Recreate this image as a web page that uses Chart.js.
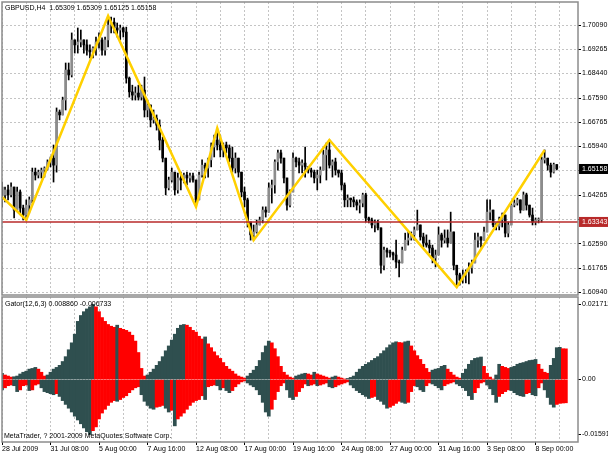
<!DOCTYPE html>
<html>
<head>
<meta charset="utf-8">
<script src="https://cdn.jsdelivr.net/npm/chart.js@4/dist/chart.umd.min.js"></script>
<style>
html, body { margin: 0; padding: 0; background: #fff; }
#wrap { position: relative; width: 608px; height: 456px; overflow: hidden; }
canvas { position: absolute; left: 0; }
</style>
</head>
<body>
<div id="wrap">
<canvas id="price" width="608" height="297" style="top:0"></canvas>
<canvas id="gator" width="608" height="160" style="top:296px"></canvas>
</div>
<script>
// ---- texts
const symbolTitle = 'GBPUSD,H4  1.65309 1.65309 1.65125 1.65158';
const gatorTitle = 'Gator(12,6,3) 0.008860 -0.006733';
const copyright = 'MetaTrader, ? 2001-2009 MetaQuotes Software Corp.';

// ---- time axis (one label every 16 H4 bars, grid every 8)
const axisDates = ['28 Jul 2009', '31 Jul 08:00', '5 Aug 00:00', '7 Aug 16:00', '12 Aug 08:00', '17 Aug 00:00',
    '19 Aug 16:00', '24 Aug 08:00', '27 Aug 00:00', '31 Aug 16:00', '3 Sep 08:00', '8 Sep 00:00'];
const dateStep = 16;
const gridStep = 8;
const slotCount = 191;

// ---- candles (open of a bar = close of the one before)
const firstOpen = 1.6454;
const barHigh = [
    1.6471, 1.6454, 1.6461, 1.6468, 1.6416, 1.6454, 1.6444, 1.6392, 1.6410, 1.6420,
    1.6519, 1.6519, 1.6512, 1.6519, 1.6523, 1.6547, 1.6557, 1.6598, 1.6725, 1.6718,
    1.6762, 1.6879, 1.6879, 1.6982, 1.6958, 1.6999, 1.6992, 1.6958, 1.6958, 1.6941,
    1.6934, 1.6968, 1.6982, 1.6965, 1.6968, 1.7040, 1.7036, 1.7033, 1.7016, 1.7009,
    1.7002, 1.7002, 1.6831, 1.6803, 1.6797, 1.6803, 1.6803, 1.6831, 1.6752, 1.6725,
    1.6718, 1.6701, 1.6684, 1.6625, 1.6547, 1.6488, 1.6519, 1.6495, 1.6502, 1.6505,
    1.6502, 1.6505, 1.6502, 1.6502, 1.6471, 1.6505, 1.6547, 1.6536, 1.6553, 1.6605,
    1.6632, 1.6656, 1.6632, 1.6605, 1.6608, 1.6598, 1.6591, 1.6571, 1.6547, 1.6502,
    1.6454, 1.6416, 1.6331, 1.6324, 1.6341, 1.6351, 1.6386, 1.6386, 1.6468, 1.6478,
    1.6547, 1.6581, 1.6581, 1.6523, 1.6478, 1.6444, 1.6571, 1.6557, 1.6553, 1.6547,
    1.6591, 1.6519, 1.6519, 1.6512, 1.6512, 1.6523, 1.6581, 1.6605, 1.6615, 1.6547,
    1.6553, 1.6512, 1.6512, 1.6468, 1.6427, 1.6416, 1.6420, 1.6410, 1.6410, 1.6433,
    1.6433, 1.6351, 1.6348, 1.6341, 1.6341, 1.6307, 1.6248, 1.6245, 1.6238, 1.6231,
    1.6272, 1.6204, 1.6248, 1.6296, 1.6300, 1.6300, 1.6317, 1.6375, 1.6324, 1.6296,
    1.6290, 1.6272, 1.6255, 1.6238, 1.6317, 1.6296, 1.6307, 1.6307, 1.6368, 1.6238,
    1.6186, 1.6159, 1.6170, 1.6170, 1.6194, 1.6204, 1.6296, 1.6296, 1.6283, 1.6317,
    1.6410, 1.6410, 1.6341, 1.6331, 1.6351, 1.6365, 1.6341, 1.6334, 1.6399, 1.6410,
    1.6416, 1.6399, 1.6437, 1.6433, 1.6386, 1.6382, 1.6348, 1.6348, 1.6557, 1.6581,
    1.6547, 1.6536, 1.6536, 1.65309
];
const barLow = [
    1.6386, 1.6403, 1.6410, 1.6420, 1.6348, 1.6375, 1.6365, 1.6341, 1.6341, 1.6365,
    1.6399, 1.6478, 1.6485, 1.6485, 1.6488, 1.6512, 1.6523, 1.6471, 1.6505, 1.6684,
    1.6711, 1.6718, 1.6821, 1.6831, 1.6913, 1.6913, 1.6934, 1.6913, 1.6906, 1.6896,
    1.6896, 1.6906, 1.6930, 1.6906, 1.6906, 1.6934, 1.6982, 1.6982, 1.6968, 1.6958,
    1.6968, 1.6810, 1.6762, 1.6752, 1.6752, 1.6752, 1.6752, 1.6694, 1.6694, 1.6660,
    1.6673, 1.6649, 1.6581, 1.6540, 1.6427, 1.6444, 1.6471, 1.6427, 1.6433, 1.6444,
    1.6468, 1.6461, 1.6471, 1.6471, 1.6386, 1.6420, 1.6488, 1.6485, 1.6488, 1.6523,
    1.6557, 1.6581, 1.6557, 1.6557, 1.6571, 1.6540, 1.6505, 1.6502, 1.6488, 1.6420,
    1.6386, 1.6317, 1.6272, 1.6272, 1.6296, 1.6331, 1.6331, 1.6351, 1.6386, 1.6399,
    1.6433, 1.6512, 1.6536, 1.6468, 1.6375, 1.6386, 1.6488, 1.6523, 1.6502, 1.6502,
    1.6488, 1.6502, 1.6488, 1.6468, 1.6444, 1.6468, 1.6512, 1.6478, 1.6519, 1.6488,
    1.6495, 1.6488, 1.6444, 1.6386, 1.6386, 1.6386, 1.6386, 1.6375, 1.6365, 1.6386,
    1.6334, 1.6331, 1.6314, 1.6300, 1.6307, 1.6159, 1.6170, 1.6214, 1.6214, 1.6204,
    1.6177, 1.6146, 1.6194, 1.6248, 1.6255, 1.6272, 1.6272, 1.6317, 1.6272, 1.6248,
    1.6248, 1.6228, 1.6194, 1.6180, 1.6228, 1.6248, 1.6262, 1.6248, 1.6272, 1.6170,
    1.6111, 1.6118, 1.6125, 1.6125, 1.6122, 1.6159, 1.6204, 1.6248, 1.6248, 1.6272,
    1.6307, 1.6341, 1.6317, 1.6307, 1.6307, 1.6317, 1.6283, 1.6283, 1.6368, 1.6386,
    1.6392, 1.6365, 1.6382, 1.6375, 1.6351, 1.6324, 1.6324, 1.6331, 1.6334, 1.6536,
    1.6512, 1.6488, 1.6502, 1.65125
];
const barClose = [
    1.6427, 1.6444, 1.6427, 1.6454, 1.6375, 1.6437, 1.6382, 1.6358, 1.6392, 1.6410,
    1.6505, 1.6495, 1.6505, 1.6512, 1.6519, 1.6540, 1.6553, 1.6529, 1.6711, 1.6701,
    1.6752, 1.6855, 1.6838, 1.6958, 1.6941, 1.6951, 1.6958, 1.6941, 1.6923, 1.6917,
    1.6930, 1.6951, 1.6958, 1.6923, 1.6958, 1.7009, 1.7019, 1.6999, 1.6992, 1.6999,
    1.6985, 1.6827, 1.6780, 1.6769, 1.6776, 1.6762, 1.6786, 1.6718, 1.6735, 1.6684,
    1.6690, 1.6666, 1.6615, 1.6553, 1.6451, 1.6478, 1.6505, 1.6444, 1.6485, 1.6478,
    1.6495, 1.6485, 1.6492, 1.6478, 1.6410, 1.6495, 1.6529, 1.6519, 1.6547, 1.6591,
    1.6615, 1.6598, 1.6581, 1.6598, 1.6588, 1.6553, 1.6519, 1.6553, 1.6505, 1.6437,
    1.6410, 1.6334, 1.6290, 1.6300, 1.6324, 1.6341, 1.6375, 1.6368, 1.6451, 1.6461,
    1.6540, 1.6571, 1.6553, 1.6485, 1.6392, 1.6437, 1.6553, 1.6540, 1.6529, 1.6536,
    1.6523, 1.6512, 1.6505, 1.6485, 1.6495, 1.6512, 1.6564, 1.6581, 1.6529, 1.6540,
    1.6512, 1.6502, 1.6461, 1.6410, 1.6416, 1.6410, 1.6403, 1.6392, 1.6399, 1.6427,
    1.6348, 1.6341, 1.6324, 1.6331, 1.6314, 1.6186, 1.6238, 1.6231, 1.6228, 1.6221,
    1.6197, 1.6194, 1.6238, 1.6272, 1.6279, 1.6290, 1.6307, 1.6324, 1.6283, 1.6262,
    1.6255, 1.6245, 1.6211, 1.6221, 1.6290, 1.6272, 1.6279, 1.6262, 1.6300, 1.6186,
    1.6153, 1.6135, 1.6153, 1.6163, 1.6177, 1.6194, 1.6272, 1.6283, 1.6272, 1.6300,
    1.6368, 1.6375, 1.6324, 1.6320, 1.6341, 1.6358, 1.6296, 1.6324, 1.6392, 1.6399,
    1.6410, 1.6375, 1.6427, 1.6392, 1.6358, 1.6334, 1.6341, 1.6341, 1.6547, 1.6553,
    1.6529, 1.6505, 1.6531, 1.65158
];

// ---- zigzag pivots
const zigzagBars = [0, 8, 35, 64, 71, 83, 108, 150, 179];
const zigzagPrices = [1.6420, 1.6341, 1.7040, 1.6386, 1.6656, 1.6272, 1.6615, 1.6111, 1.6581];

// ---- price axis
const priceMin = 1.6084;
const priceMax = 1.7088;
const priceTicks = [1.60940, 1.61765, 1.62590, 1.63440, 1.64265, 1.65115, 1.65940, 1.66765, 1.67590, 1.68440, 1.69265, 1.70090];
const priceTickLabels = ['1.60940', '1.61765', '1.62590', '', '1.64265', '', '1.65940', '1.66765', '1.67590', '1.68440', '1.69265', '1.70090'];
const lastPrice = 1.65158;
const levelPrice = 1.63343;

// ---- gator oscillator
const gatorUpper = [
    0.0018, 0.0013, 0.0010, 0.0007, 0.0008, 0.0010, 0.0016, 0.0021, 0.0024, 0.0030,
    0.0032, 0.0035, 0.0030, 0.0021, 0.0010, 0.0013, 0.0021, 0.0030, 0.0035, 0.0041,
    0.0052, 0.0066, 0.0086, 0.0106, 0.0131, 0.0168, 0.0185, 0.0196, 0.0204, 0.0210,
    0.021712, 0.0210, 0.0196, 0.0179, 0.0168, 0.0159, 0.0154, 0.0151, 0.0157, 0.0148,
    0.0145, 0.0142, 0.0137, 0.0128, 0.0111, 0.0078, 0.0032, 0.0010, 0.0013, 0.0021,
    0.0030, 0.0041, 0.0052, 0.0066, 0.0083, 0.0097, 0.0114, 0.0131, 0.0148, 0.0157,
    0.0159, 0.0157, 0.0151, 0.0142, 0.0137, 0.0125, 0.0117, 0.0123, 0.0103, 0.0092,
    0.0080, 0.0069, 0.0061, 0.0049, 0.0038, 0.0030, 0.0024, 0.0016, 0.0010, 0.0007,
    0.0004, 0.0010, 0.0018, 0.0027, 0.0038, 0.0055, 0.0078, 0.0097, 0.0111, 0.0106,
    0.0089, 0.0066, 0.0038, 0.0021, 0.0013, 0.0007, 0.0004, 0.0010, 0.0013, 0.0016,
    0.0018, 0.0016, 0.0013, 0.0021, 0.0016, 0.0013, 0.0010, 0.0007, 0.0004, 0.0007,
    0.0010, 0.0007, 0.0004, 0.0001, 0.0003, 0.0006, 0.0010, 0.0021, 0.0030, 0.0038,
    0.0044, 0.0049, 0.0055, 0.0061, 0.0066, 0.0075, 0.0083, 0.0092, 0.0100, 0.0106,
    0.0109, 0.0107, 0.0106, 0.0109, 0.0111, 0.0097, 0.0083, 0.0069, 0.0058, 0.0044,
    0.0032, 0.0021, 0.0027, 0.0030, 0.0032, 0.0038, 0.0041, 0.0030, 0.0021, 0.0013,
    0.0007, 0.0004, 0.0018, 0.0030, 0.0044, 0.0055, 0.0061, 0.0063, 0.0065, 0.0038,
    0.0018, 0.0007, 0.0001, 0.0013, 0.0044, 0.0038, 0.0035, 0.0032, 0.0035, 0.0038,
    0.0044, 0.0047, 0.0049, 0.0052, 0.0055, 0.0056, 0.0058, 0.0044, 0.0030, 0.0021,
    0.0018, 0.0041, 0.0061, 0.0092, 0.0093, 0.0089, 0.00886
];
const gatorLower = [
    -0.0030, -0.0024, -0.0018, -0.0016, -0.0018, -0.0035, -0.0030, -0.0018, -0.0016, -0.0032,
    -0.0030, -0.0016, -0.0013, -0.0024, -0.0035, -0.0038, -0.0041, -0.0044, -0.0041, -0.0049,
    -0.0061, -0.0072, -0.0083, -0.0094, -0.0106, -0.0117, -0.0128, -0.0140, -0.0151, -0.01591,
    -0.0148, -0.0137, -0.0114, -0.0097, -0.0086, -0.0075, -0.0066, -0.0061, -0.0063, -0.0058,
    -0.0052, -0.0047, -0.0038, -0.0030, -0.0024, -0.0021, -0.0044, -0.0063, -0.0075, -0.0083,
    -0.0086, -0.0080, -0.0078, -0.0075, -0.0083, -0.0094, -0.0089, -0.0134, -0.0114, -0.0106,
    -0.0097, -0.0086, -0.0075, -0.0066, -0.0061, -0.0058, -0.0047, -0.0058, -0.0021, -0.0018,
    -0.0016, -0.0018, -0.0030, -0.0024, -0.0032, -0.0038, -0.0032, -0.0021, -0.0013, -0.0007,
    -0.0004, -0.0010, -0.0016, -0.0021, -0.0030, -0.0044, -0.0066, -0.0094, -0.0106, -0.0086,
    -0.0058, -0.0035, -0.0018, -0.0010, -0.0030, -0.0052, -0.0058, -0.0049, -0.0035, -0.0024,
    -0.0013, -0.0018, -0.0016, -0.0013, -0.0018, -0.0016, -0.0013, -0.0010, -0.0021, -0.0024,
    -0.0021, -0.0016, -0.0013, -0.0010, -0.0007, -0.0016, -0.0024, -0.0032, -0.0038, -0.0044,
    -0.0049, -0.0055, -0.0052, -0.0049, -0.0058, -0.0063, -0.0072, -0.0083, -0.0080, -0.0075,
    -0.0069, -0.0063, -0.0066, -0.0069, -0.0066, -0.0035, -0.0018, -0.0021, -0.0030, -0.0035,
    -0.0018, -0.0010, -0.0013, -0.0018, -0.0024, -0.0030, -0.0018, -0.0013, -0.0010, -0.0007,
    -0.0013, -0.0018, -0.0024, -0.0032, -0.0047, -0.0058, -0.0038, -0.0024, -0.0010, -0.0007,
    -0.0016, -0.0027, -0.0044, -0.0066, -0.0049, -0.0041, -0.0035, -0.0030, -0.0032, -0.0038,
    -0.0044, -0.0047, -0.0049, -0.0041, -0.0038, -0.0044, -0.0047, -0.0024, -0.0010, -0.0030,
    -0.0052, -0.0072, -0.0080, -0.0072, -0.0069, -0.0068, -0.006733
];
const gatorMin = -0.018064;
const gatorMax = 0.023844;
const gatorTicks = [-0.01591, 0, 0.021712];
const gatorTickLabels = ['-0.01591', '0.00', '0.021712'];

// ---- look
const gridColor = '#c4c4c4';
const frameColor = '#8c8c8c';
const upColor = '#8c8c8c';
const downColor = '#000000';
const zigzagColor = '#ffd000';
const levelColor = '#b82a2a';
const gatorUp = '#2f4f4f';
const gatorDown = '#ff0000';

Chart.defaults.font.family = 'Liberation Sans';
Chart.defaults.font.size = 7;
Chart.defaults.color = '#000';

// ---- derived tables for the library
const slotLabels = [];
for (let i = 0; i < slotCount; i++) {
    slotLabels.push(i % dateStep === 0 && axisDates[i / dateStep] ? axisDates[i / dateStep] : '');
}
const barOpen = barClose.map((c, i) => i === 0 ? firstOpen : barClose[i - 1]);
const wicks = barHigh.map((h, i) => [Math.min(barLow[i], barOpen[i], barClose[i]), Math.max(h, barOpen[i], barClose[i])]);
const bodies = barOpen.map((o, i) => [Math.min(o, barClose[i]), Math.max(o, barClose[i])]);
const bodyColors = barClose.map((c, i) => c >= barOpen[i] ? upColor : downColor);
const zigzag = new Array(slotCount).fill(null);
zigzagBars.forEach((b, k) => { zigzag[b] = zigzagPrices[k]; });

function gatorColors(values) {
    return values.map((v, i) => i > 0 && Math.abs(v) <= Math.abs(values[i - 1]) ? gatorDown : gatorUp);
}

const everyGrid = ctx => ctx.index % gridStep === 0 ? gridColor : 'rgba(0,0,0,0)';
const everyDate = ctx => ctx.index % dateStep === 0 ? '#000' : 'rgba(0,0,0,0)';

// keep the plot box where it is, whatever the label sizes
function fixWidth(s) {
    s.width = 30;
    s.paddingTop = 0;
    s.paddingBottom = 0;
}

const framePlugin = {
    id: 'frame',
    afterDraw(chart) {
        const a = chart.chartArea, ctx = chart.ctx;
        ctx.save();
        ctx.strokeStyle = frameColor;
        ctx.lineWidth = 1.5;
        ctx.strokeRect(a.left, a.top, a.right - a.left, a.bottom - a.top);
        ctx.restore();
    }
};

const priceMarks = {
    id: 'priceMarks',
    afterDatasetsDraw(chart) {
        const a = chart.chartArea, ctx = chart.ctx;
        const y = chart.scales.y.getPixelForValue(levelPrice);
        ctx.save();
        ctx.strokeStyle = levelColor;
        ctx.lineWidth = 1.5;
        ctx.beginPath();
        ctx.moveTo(a.left, y);
        ctx.lineTo(a.right, y);
        ctx.stroke();
        ctx.restore();
    },
    afterDraw(chart) {
        const a = chart.chartArea, ctx = chart.ctx;
        ctx.save();
        ctx.font = '7px "Liberation Sans"';
        ctx.textBaseline = 'middle';
        [[lastPrice, '#000'], [levelPrice, levelColor]].forEach(([v, bg]) => {
            const y = chart.scales.y.getPixelForValue(v);
            ctx.fillStyle = bg;
            ctx.fillRect(a.right + 1, y - 5, 30, 10);
            ctx.fillStyle = '#fff';
            ctx.fillText(v.toFixed(5), a.right + 4, y + 0.5);
        });
        ctx.fillStyle = '#000';
        ctx.fillText(symbolTitle, 5, 8);
        ctx.restore();
    }
};

const gatorText = {
    id: 'gatorText',
    afterDraw(chart) {
        const ctx = chart.ctx;
        ctx.save();
        ctx.font = '7px "Liberation Sans"';
        ctx.textBaseline = 'middle';
        ctx.fillStyle = '#000';
        ctx.fillText(gatorTitle, 5, 8);
        ctx.fillText(copyright, 4, 140);
        ctx.restore();
    }
};

new Chart(document.getElementById('price'), {
    type: 'bar',
    data: {
        labels: slotLabels,
        datasets: [
            { type: 'line', data: zigzag, borderColor: zigzagColor, borderWidth: 2.5, pointRadius: 0, spanGaps: true, order: 0 },
            { data: bodies, backgroundColor: bodyColors, barThickness: 2, grouped: false, minBarLength: 1, order: 1 },
            { data: wicks, backgroundColor: '#000', barThickness: 1, grouped: false, order: 2 }
        ]
    },
    options: {
        responsive: false,
        animation: false,
        layout: { padding: { left: 2, top: 2, right: 0, bottom: 2 } },
        plugins: { legend: { display: false }, tooltip: { enabled: false } },
        scales: {
            x: {
                offset: false,
                grid: { offset: false, color: everyGrid, drawTicks: false },
                border: { display: false, dash: [2, 2] },
                ticks: { display: false },
                afterFit: s => { s.height = 0; s.paddingLeft = 0; s.paddingRight = 0; }
            },
            y: {
                position: 'right',
                min: priceMin,
                max: priceMax,
                afterBuildTicks: s => { s.ticks = priceTicks.map(v => ({ value: v })); },
                ticks: { autoSkip: false, padding: 1, callback: (v, i) => priceTickLabels[i] },
                grid: { color: gridColor, tickColor: '#000', tickLength: 3, tickBorderDash: [] },
                border: { display: false, dash: [2, 2] },
                afterFit: fixWidth
            }
        }
    },
    plugins: [priceMarks, framePlugin]
});

new Chart(document.getElementById('gator'), {
    type: 'bar',
    data: {
        labels: slotLabels,
        datasets: [
            { data: gatorUpper, backgroundColor: gatorColors(gatorUpper), barPercentage: 1, categoryPercentage: 1, grouped: false },
            { data: gatorLower, backgroundColor: gatorColors(gatorLower), barPercentage: 1, categoryPercentage: 1, grouped: false }
        ]
    },
    options: {
        responsive: false,
        animation: false,
        layout: { padding: { left: 2, top: 1, right: 0, bottom: 0 } },
        plugins: { legend: { display: false }, tooltip: { enabled: false } },
        scales: {
            x: {
                offset: false,
                grid: { offset: false, color: everyGrid, tickColor: everyDate, tickLength: 3, tickBorderDash: [] },
                border: { display: false, dash: [2, 2] },
                ticks: { autoSkip: false, maxRotation: 0, minRotation: 0, align: 'start', padding: 0 },
                afterFit: s => { s.height = 14; s.paddingLeft = 0; s.paddingRight = 0; }
            },
            y: {
                position: 'right',
                min: gatorMin,
                max: gatorMax,
                afterBuildTicks: s => { s.ticks = gatorTicks.map(v => ({ value: v })); },
                ticks: { autoSkip: false, padding: 1, callback: (v, i) => gatorTickLabels[i] },
                grid: { drawOnChartArea: false, tickColor: '#000', tickLength: 3 },
                border: { display: false },
                afterFit: fixWidth
            }
        }
    },
    plugins: [gatorText, framePlugin]
});
</script>
</body>
</html>
